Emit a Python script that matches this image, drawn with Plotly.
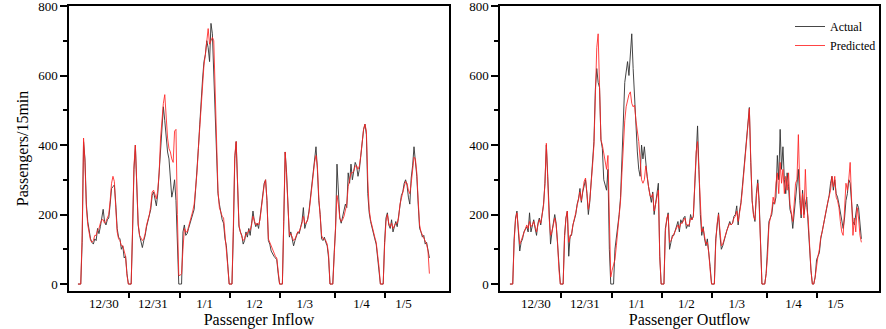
import numpy as np
import plotly.graph_objects as go

# ---------------- data (passengers per 15 min, sampled) ----------------
day_labels = ["12/30", "12/31", "1/1", "1/2", "1/3", "1/4", "1/5"]
label_pos = [18.5, 53.5, 90.5, 126, 162, 202.5, 232.5]      # label centres (sample index)
day_bounds = [36.4, 72.9, 108.6, 144.3, 183.6, 219.3]       # day separator ticks

inflow_actual = [
    0,0,0,120,410,360,230,180,150,130,120,115,130,125,160,145,165,190,215,180,170,185,190,230,275,280,285,230,160,135,130,100,110,75,80,30,
    0,0,0,150,330,400,260,170,140,125,105,125,140,165,185,195,215,255,265,245,225,260,320,380,440,510,470,420,380,360,300,250,270,300,240,90,
    0,0,0,150,170,140,145,160,175,185,205,215,270,320,390,460,540,590,640,660,700,680,640,750,720,600,520,390,260,230,200,185,175,130,110,60,
    0,0,0,150,360,410,250,165,150,140,115,125,150,135,160,140,175,210,180,165,175,160,190,230,270,290,300,240,125,115,95,85,80,75,70,30,
    0,0,0,180,380,320,200,135,150,130,110,125,140,150,145,165,180,220,160,175,185,210,245,290,330,360,395,330,240,200,130,125,135,120,110,75,
    0,0,0,90,160,345,250,190,175,195,205,230,220,320,290,345,300,320,350,340,310,330,375,400,445,460,430,260,205,180,160,150,130,115,75,40,
    0,0,0,120,190,205,170,160,185,150,170,180,165,195,240,255,265,290,300,285,250,230,305,340,395,350,310,230,160,150,135,140,115,120,95,75,
]
inflow_pred = [
    0,0,0,140,420,350,220,170,140,125,120,125,140,140,155,160,175,185,185,175,180,190,200,240,290,310,295,220,150,130,125,110,110,95,80,25,
    0,0,0,160,340,400,270,175,140,130,125,130,145,170,185,200,225,265,270,255,245,270,320,420,480,520,545,470,420,390,380,360,350,440,445,200,
    25,25,30,100,160,150,150,165,180,190,210,230,270,320,390,450,530,600,630,660,690,735,690,700,710,700,560,400,270,220,205,195,190,150,100,50,
    0,0,0,170,370,410,260,170,150,140,125,130,145,145,155,155,170,195,185,170,175,170,185,220,260,285,300,240,130,120,105,95,85,80,75,30,
    0,0,0,190,380,310,200,140,145,135,125,130,140,150,150,160,175,195,175,175,185,205,240,280,320,350,370,340,250,200,140,130,130,125,115,85,
    0,0,0,80,150,255,230,190,180,185,195,210,230,280,300,320,320,325,340,340,330,340,370,410,445,460,440,300,215,185,165,150,135,120,90,50,
    0,0,0,110,180,200,175,165,175,160,170,175,175,190,230,250,265,280,295,290,270,260,290,330,365,360,320,240,170,150,140,135,120,115,95,30,
]
outflow_actual = [
    0,0,0,130,190,210,160,95,120,130,150,160,165,150,205,150,170,185,160,140,175,190,170,200,230,290,400,310,200,115,150,180,200,175,120,50,
    0,0,0,140,190,210,80,140,140,170,185,200,230,245,275,235,265,280,300,260,200,235,285,350,410,560,620,580,565,415,390,300,280,270,330,100,
    0,0,0,100,130,160,200,250,350,480,580,610,640,600,670,720,620,530,460,380,330,310,400,360,395,340,310,280,250,235,265,200,230,260,290,80,
    0,0,0,160,190,205,100,125,140,140,155,165,180,150,185,175,190,195,160,170,165,200,185,195,280,400,455,330,200,140,165,130,110,130,95,50,
    0,0,0,130,180,205,140,100,110,130,140,155,170,180,170,175,195,200,225,170,210,235,280,330,380,415,470,508,350,240,200,180,260,300,240,120,
    0,0,0,30,90,180,190,200,235,230,250,370,300,445,330,395,300,260,320,280,215,200,160,200,250,300,330,240,190,270,200,230,250,170,100,40,
    0,0,20,70,80,90,130,150,170,200,210,240,255,290,310,270,300,260,250,230,210,180,160,190,240,260,300,290,230,180,170,200,230,220,160,130,
]
outflow_pred = [
    0,0,0,120,185,205,165,115,125,135,150,160,170,160,180,165,170,180,165,150,170,185,175,195,225,290,405,300,190,140,150,170,190,170,120,40,
    0,0,0,130,190,210,120,135,145,170,185,205,225,245,265,240,270,295,305,260,215,240,280,340,400,550,680,720,560,415,400,380,350,330,370,150,
    20,40,60,70,110,150,190,240,320,420,470,510,530,545,553,520,510,515,470,440,410,360,300,290,300,340,300,280,255,250,260,210,230,250,270,80,
    0,0,0,150,190,200,120,125,135,140,150,160,170,160,175,175,185,190,170,170,170,190,185,195,270,380,410,320,210,150,160,135,115,120,90,40,
    0,0,0,120,175,200,150,110,115,130,140,155,165,175,170,175,190,195,210,180,205,230,270,320,370,410,460,505,360,240,195,185,250,290,230,110,
    0,0,0,30,80,170,190,210,250,230,290,320,260,350,290,330,260,310,270,320,230,210,180,230,290,300,430,280,200,260,190,330,220,190,110,40,
    0,0,20,60,80,100,135,150,175,200,215,235,250,270,310,280,310,250,240,220,180,150,140,220,290,270,300,350,250,140,190,150,220,190,140,120,
]

# ---------------- figure ----------------
FONT = "Liberation Serif"
ACT_COL = "rgba(50,50,50,0.9)"
PRED_COL = "rgba(255,35,35,0.85)"

x_in = np.arange(len(inflow_actual))
x_out = np.arange(len(outflow_actual))

fig = go.Figure()
fig.add_trace(go.Scatter(x=x_in, y=inflow_actual, mode="lines", name="Actual",
                         line=dict(color=ACT_COL, width=1), showlegend=False, xaxis="x", yaxis="y"))
fig.add_trace(go.Scatter(x=x_in, y=inflow_pred, mode="lines", name="Predicted",
                         line=dict(color=PRED_COL, width=1), showlegend=False, xaxis="x", yaxis="y"))
fig.add_trace(go.Scatter(x=x_out, y=outflow_actual, mode="lines", name="Actual",
                         line=dict(color=ACT_COL, width=1), xaxis="x2", yaxis="y2"))
fig.add_trace(go.Scatter(x=x_out, y=outflow_pred, mode="lines", name="Predicted",
                         line=dict(color=PRED_COL, width=1), xaxis="x2", yaxis="y2"))

def xaxis_cfg(domain, rng, title, anchor):
    return dict(
        domain=domain, range=rng, anchor=anchor, automargin=False,
        tickmode="array", tickvals=label_pos, ticktext=day_labels, ticks="",
        showline=True, linecolor="black", linewidth=1.5, mirror=True,
        showgrid=False, zeroline=False,
        tickfont=dict(family=FONT, size=13, color="black"),
        minor=dict(tickmode="array", tickvals=day_bounds, ticks="outside",
                   ticklen=5, tickwidth=1.5, tickcolor="black", showgrid=False),
        title=dict(text=title, font=dict(family=FONT, size=16, color="black"), standoff=1),
    )

def yaxis_cfg(domain, anchor, title):
    d = dict(
        domain=domain, range=[-20, 800], anchor=anchor, automargin=False,
        tickmode="array", tickvals=[0, 200, 400, 600, 800],
        ticks="outside", ticklen=7, ticklabeloverflow="allow",
        tickwidth=1.5, tickcolor="black",
        showline=True, linecolor="black", linewidth=1.5, mirror=True,
        showgrid=False, zeroline=False,
        tickfont=dict(family=FONT, size=13, color="black"),
        minor=dict(tickmode="array", tickvals=[100, 300, 500, 700], ticks="outside",
                   ticklen=4, tickwidth=1.5, tickcolor="black", showgrid=False),
    )
    if title:
        d["title"] = dict(text=title, font=dict(family=FONT, size=16, color="black"), standoff=6)
    return d

W, H = 886, 329
ydom = [(H - 291) / H, (H - 6) / H]
fig.update_layout(
    width=W, height=H,
    margin=dict(l=0, r=0, t=0, b=0, autoexpand=False),
    paper_bgcolor="white", plot_bgcolor="white",
    xaxis=xaxis_cfg([69 / W, 449 / W], [-6.4, 265], "Passenger Inflow", "y"),
    yaxis=yaxis_cfg(ydom, "x", "Passengers/15min"),
    xaxis2=xaxis_cfg([500 / W, 879 / W], [-7.1, 263.6], "Passenger Outflow", "y2"),
    yaxis2=yaxis_cfg(ydom, "x2", None),
    legend=dict(x=790 / W, y=1 - 12 / H, xanchor="left", yanchor="top",
                bgcolor="rgba(0,0,0,0)", borderwidth=0,
                font=dict(family=FONT, size=12, color="black"),
                tracegroupgap=0, itemwidth=30),
    font=dict(family=FONT),
)

fig.write_html("out.html")
